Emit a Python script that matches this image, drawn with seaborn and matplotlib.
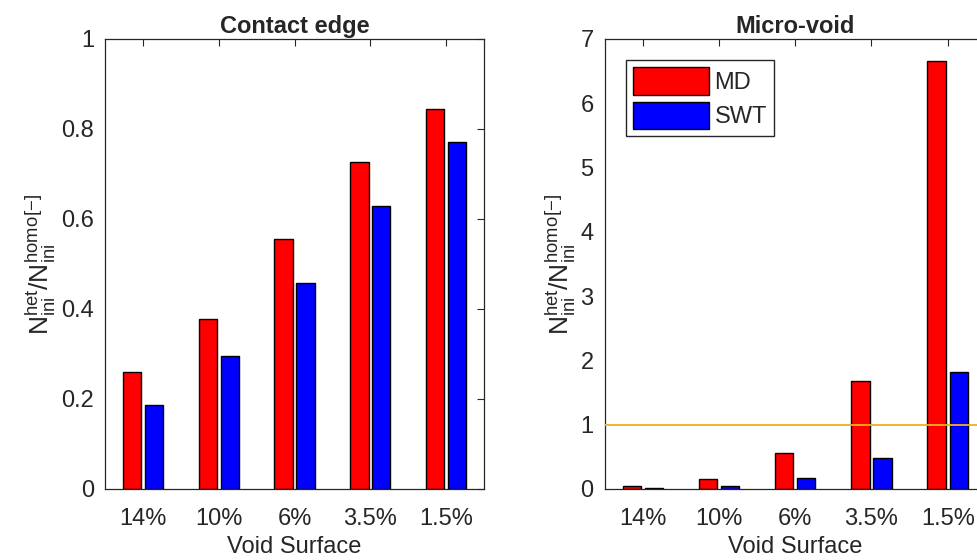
import matplotlib
matplotlib.use("Agg")
import matplotlib.pyplot as plt
import seaborn as sns
import pandas as pd

# datos
surfaces = ["14%", "10%", "6%", "3.5%", "1.5%"]
methods = ["MD", "SWT"]
edge_md = [0.259, 0.378, 0.556, 0.726, 0.844]
edge_swt = [0.187, 0.295, 0.458, 0.628, 0.770]
void_md = [0.05, 0.155, 0.555, 1.675, 6.66]
void_swt = [0.015, 0.05, 0.17, 0.48, 1.82]

colors = {"MD": "#ff0000", "SWT": "#0000ff"}
ylabel = r"$\mathregular{N^{het}_{ini}/N^{homo}_{ini}{}^{[-]}}$"


def to_frame(md, swt):
    return pd.DataFrame({
        "surface": surfaces * 2,
        "method": ["MD"] * len(md) + ["SWT"] * len(swt),
        "value": list(md) + list(swt),
    })


sns.set_theme(style="white")
plt.rcParams["font.family"] = ["Liberation Sans", "DejaVu Sans"]
plt.rcParams["mathtext.fontset"] = "custom"
plt.rcParams["mathtext.rm"] = "Liberation Sans"

fig = plt.figure(figsize=(9.77, 5.6), dpi=100)
ax1 = fig.add_axes([0.1075, 0.1268, 0.388, 0.8036])
ax2 = fig.add_axes([0.619, 0.1268, 0.390, 0.8036])

panels = [
    (ax1, to_frame(edge_md, edge_swt), "Contact edge", (0, 1),
     [0, 0.2, 0.4, 0.6, 0.8, 1], ["0", "0.2", "0.4", "0.6", "0.8", "1"]),
    (ax2, to_frame(void_md, void_swt), "Micro-void", (0, 7),
     list(range(8)), [str(i) for i in range(8)]),
]

for ax, df, title, ylim, yticks, ylabels in panels:
    sns.barplot(data=df, x="surface", y="value", hue="method", order=surfaces,
                hue_order=methods, palette=colors, width=0.58, gap=0.17,
                edgecolor="black", linewidth=1.0, saturation=1, ax=ax,
                legend=(ax is ax2), errorbar=None)
    ax.set_xlim(-0.5, 4.5)
    ax.set_ylim(*ylim)
    ax.set_yticks(yticks)
    ax.set_yticklabels(ylabels)
    ax.set_title(title, fontsize=17, fontweight="bold", pad=4)
    ax.set_xlabel("Void Surface", fontsize=17, color="#262626", labelpad=4)
    ax.set_ylabel(ylabel, fontsize=19, color="#262626", labelpad=2)
    ax.tick_params(axis="both", direction="in", labelsize=17, length=5,
                   width=0.8, color="#262626", labelcolor="#262626",
                   top=True, right=True)
    ax.tick_params(axis="x", pad=14)
    ax.tick_params(axis="y", pad=8)
    for s in ax.spines.values():
        s.set_visible(True)
        s.set_color("#262626")
        s.set_linewidth(0.9)

ax2.axhline(1, color="#EDB120", linewidth=1.3, zorder=5)

ax2.legend(loc="upper left", fontsize=17,
           frameon=True, fancybox=False, edgecolor="#262626",
           framealpha=1, handlelength=3.2, handleheight=1.4,
           handletextpad=0.25, labelspacing=0.3, borderpad=0.3,
           borderaxespad=0.9)

fig.savefig("out.png", dpi=100)
